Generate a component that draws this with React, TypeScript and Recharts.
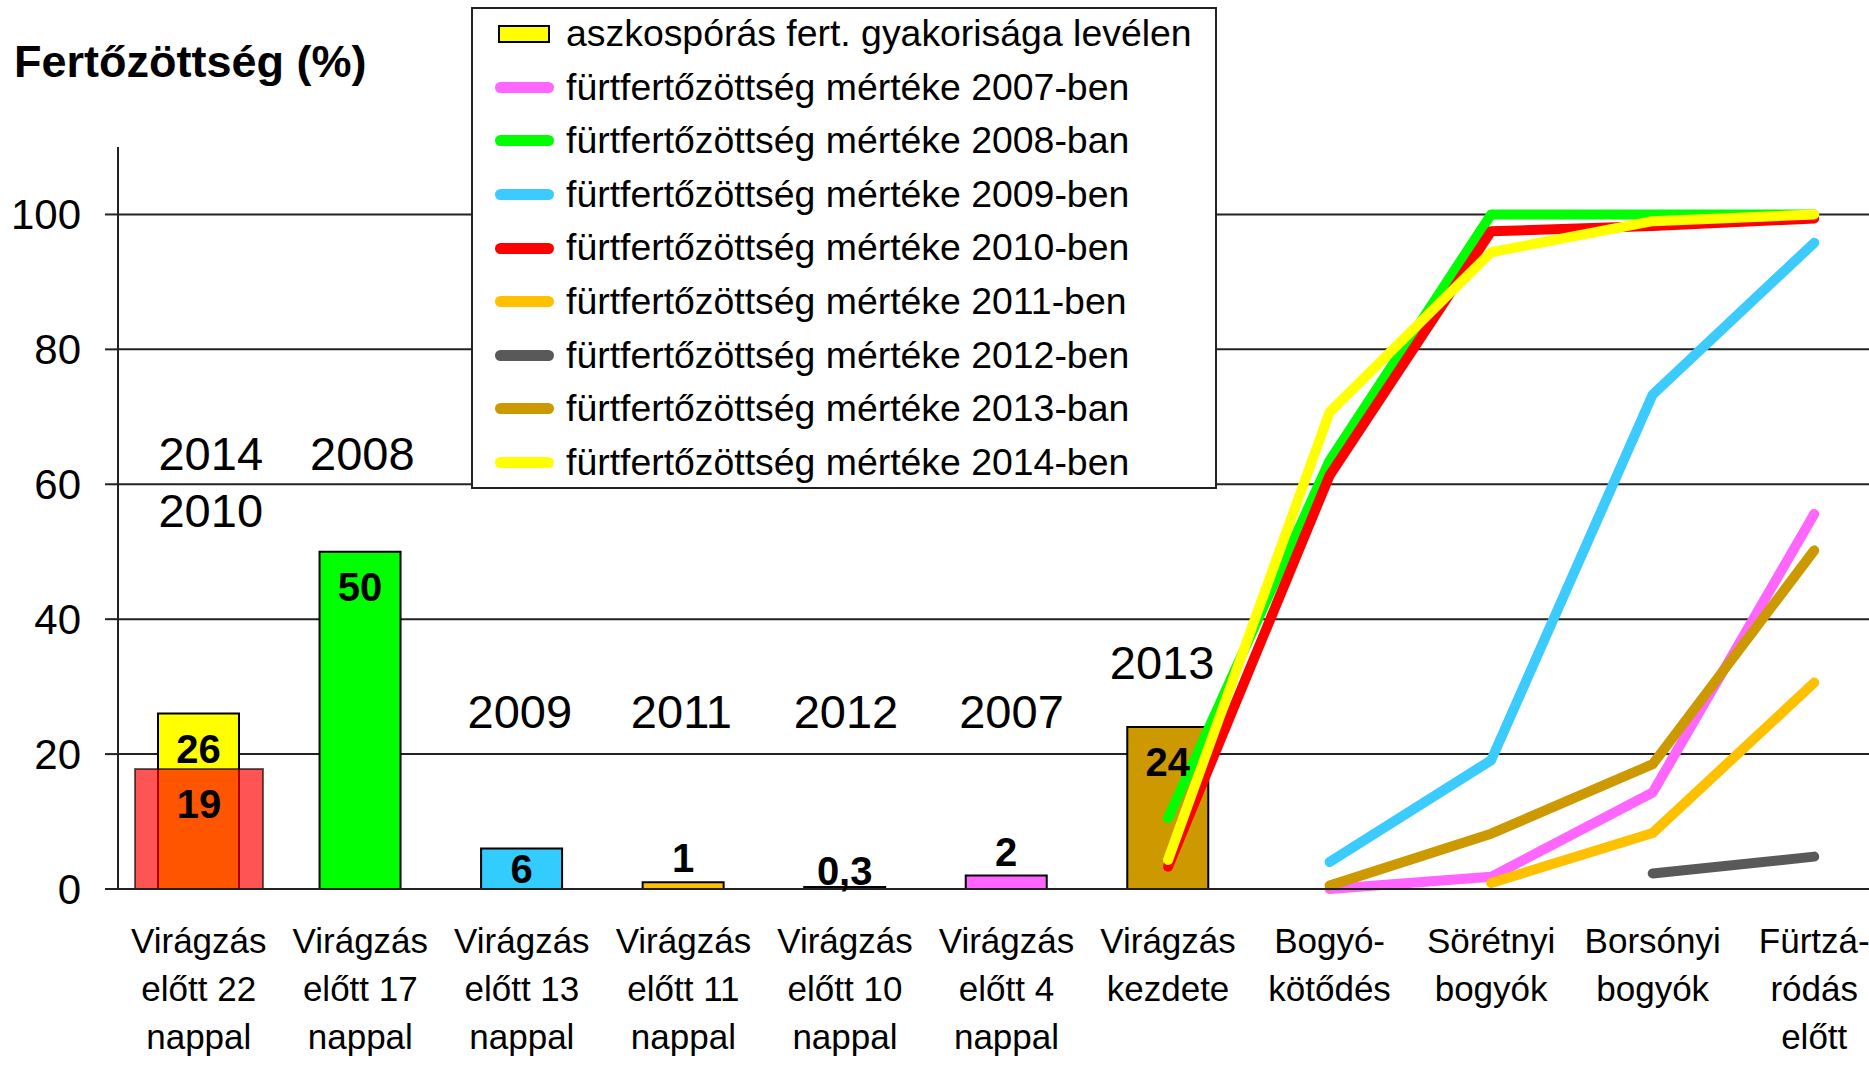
import React from 'react';
import { ComposedChart, Bar, Line, XAxis, YAxis, CartesianGrid, LabelList, ReferenceDot, Cell } from 'recharts';

const FONT = '"Liberation Sans", Arial, Helvetica, sans-serif';

// x categories (one entry per line of the tick label)
const categories = [
  ['Virágzás', 'előtt 22', 'nappal'],
  ['Virágzás', 'előtt 17', 'nappal'],
  ['Virágzás', 'előtt 13', 'nappal'],
  ['Virágzás', 'előtt 11', 'nappal'],
  ['Virágzás', 'előtt 10', 'nappal'],
  ['Virágzás', 'előtt 4', 'nappal'],
  ['Virágzás', 'kezdete'],
  ['Bogyó-', 'kötődés'],
  ['Sörétnyi', 'bogyók'],
  ['Borsónyi', 'bogyók'],
  ['Fürtzá-', 'ródás', 'előtt'],
];

// aszkospórás fertőzés gyakorisága levélen (bars)
const leafValues = [26, 50, 6, 1, 0.3, 2, 24, null, null, null, null];
const leafLabels = ['26', '50', '6', '1', '0,3', '2', '24', null, null, null, null];
const leafColors = ['#FFFF00', '#00FF00', '#33CCFF', '#FFC000', '#595959', '#FF66FF', '#CC9900'];

// 2010 leaf bar drawn wider and see-through over the 2014 one
const overlayValues = [17.8, null, null, null, null, null, null, null, null, null, null];
const overlayLabels = ['19'];

// year captions above the bars
const yearNames = ['2014', '2010', '2008', '2009', '2011', '2012', '2007', '2013'];
const yearCategory = [0, 0, 1, 2, 3, 4, 5, 6];
const yearLevel = [64.6, 56.2, 64.6, 26.4, 26.4, 26.4, 26.4, 33.6];

// fürtfertőzöttség (lines)
const values2007 = [null, null, null, null, null, null, null, 0, 1.8, 14.3, 55.6];
const values2008 = [null, null, null, null, null, null, 10.5, 63.5, 100, 100, 100];
const values2009 = [null, null, null, null, null, null, null, 4.0, 19.1, 73.3, 95.8];
const values2010 = [null, null, null, null, null, null, 3.3, 61.3, 97.5, 98.3, 99.4];
const values2011 = [null, null, null, null, null, null, null, null, 0.9, 8.3, 30.6];
const values2012 = [null, null, null, null, null, null, null, null, null, 2.3, 4.8];
const values2013 = [null, null, null, null, null, null, null, 0.5, 8.2, 18.5, 50.2];
const values2014 = [null, null, null, null, null, null, 4.3, 70.7, 94.4, 99.0, 100];

const yTicks = [0, 20, 40, 60, 80, 100];

const lineSeries = [
  { key: 's2007', name: 'fürtfertőzöttség mértéke 2007-ben', color: '#FF66FF', values: values2007 },
  { key: 's2008', name: 'fürtfertőzöttség mértéke 2008-ban', color: '#00FF00', values: values2008 },
  { key: 's2009', name: 'fürtfertőzöttség mértéke 2009-ben', color: '#3CCBFF', values: values2009 },
  { key: 's2010', name: 'fürtfertőzöttség mértéke 2010-ben', color: '#FF0000', values: values2010 },
  { key: 's2011', name: 'fürtfertőzöttség mértéke 2011-ben', color: '#FFC000', values: values2011 },
  { key: 's2012', name: 'fürtfertőzöttség mértéke 2012-ben', color: '#595959', values: values2012 },
  { key: 's2013', name: 'fürtfertőzöttség mértéke 2013-ban', color: '#CC9900', values: values2013 },
  { key: 's2014', name: 'fürtfertőzöttség mértéke 2014-ben', color: '#FFFF00', values: values2014 },
];

// small horizontal nudges of the year captions (px)
const yearDx = [12, 12, 2, -2, -2, 1, 5, -6];

const data = categories.map((lines, i) => {
  const row: any = { cat: lines.join(' '), leaf: leafValues[i], overlay: overlayValues[i] };
  lineSeries.forEach(s => { row[s.key] = s.values[i]; });
  return row;
});

const CategoryTick = (props: any) => {
  const { x, y, payload } = props;
  const lines = categories.find(c => c.join(' ') === payload.value) || [];
  return (
    <text x={x} y={y} textAnchor="middle" fontSize={35} fill="#000" fontFamily={FONT}>
      {lines.map((l, i) => (
        <tspan key={i} x={x} y={y + 64 + i * 48}>{l}</tspan>
      ))}
    </text>
  );
};

const valueLabel = (labels: (string | null)[], values: (number | null)[]) => (props: any) => {
  const vb = props.viewBox || props;
  const { x, y, width, height } = vb;
  const idx = typeof props.index === 'number' ? props.index : values.indexOf(props.value);
  const text = labels[idx];
  if (!text || x == null) return null;
  const h = Math.abs(height);
  const top = Math.min(y, y + height);
  const cx = x + width / 2;
  let base;
  if (h >= 80) base = top + 35 + 14;
  else if (h >= 25) base = top + h / 2 + 14;
  else if (h >= 5) base = top - 10;
  else base = top - 2;
  return (
    <text x={cx} y={base} textAnchor="middle" fontSize={40} fontWeight="bold" fill="#000" fontFamily={FONT}>
      {text}
    </text>
  );
};

const YearLabel = (props: any) => {
  const { viewBox, value, dx } = props;
  if (!viewBox) return null;
  const cx = viewBox.x + (viewBox.width || 0) / 2 + (dx || 0);
  const cy = viewBox.y + (viewBox.height || 0) / 2;
  return (
    <text x={cx} y={cy + 17} textAnchor="middle" fontSize={47} fill="#000" fontFamily={FONT}>{value}</text>
  );
};

export default function App() {
  return (
    <div style={{ position: 'absolute', left: 0, top: 0, width: 1869, height: 1066, overflow: 'hidden', background: '#fff', fontFamily: FONT }}>
      <div style={{ position: 'absolute', left: 0, top: 0 }}>
        <ComposedChart width={1895} height={1066} data={data} margin={{ top: 147, right: 0, bottom: 0, left: 0 }}>
          <CartesianGrid xAxisId="main" vertical={false} horizontalValues={yTicks.filter(t => t > 0)} stroke="#222" strokeWidth={2} />
          <XAxis xAxisId="main" dataKey="cat" interval={0} height={177} tickSize={0} tickMargin={0} tickLine={false}
            axisLine={{ stroke: '#222', strokeWidth: 2 }} tick={<CategoryTick />} />
          <XAxis xAxisId="over" dataKey="cat" hide />
          <YAxis domain={[0, 110]} ticks={yTicks} width={118} tickSize={13} tickMargin={24}
            axisLine={{ stroke: '#222', strokeWidth: 2 }} tickLine={{ stroke: '#222', strokeWidth: 2 }}
            tick={{ fontSize: 42, fill: '#000', fontFamily: FONT }} />
          <Bar xAxisId="main" dataKey="leaf" barSize={81} stroke="#000" strokeWidth={2} isAnimationActive={false}>
            {leafValues.map((_, i) => (
              <Cell key={i} fill={leafColors[i] || '#fff'} />
            ))}
            <LabelList dataKey="leaf" content={valueLabel(leafLabels, leafValues)} />
          </Bar>
          <Bar xAxisId="over" dataKey="overlay" barSize={128} fill="#FF0000" fillOpacity={0.67} stroke="#000" strokeOpacity={0.6}
            strokeWidth={2} isAnimationActive={false}>
            <LabelList dataKey="overlay" content={valueLabel(overlayLabels, overlayValues)} />
          </Bar>
          {lineSeries.map(s => (
            <Line key={s.key} xAxisId="main" type="linear" dataKey={s.key} stroke={s.color} strokeWidth={10}
              strokeLinecap="round" strokeLinejoin="round" dot={false} activeDot={false} isAnimationActive={false} />
          ))}
          {yearNames.map((name, i) => (
            <ReferenceDot key={name} xAxisId="main" x={data[yearCategory[i]].cat} y={yearLevel[i]} r={0}
              fill="none" stroke="none"
              label={<YearLabel value={name} dx={yearDx[i]} />} />
          ))}
        </ComposedChart>
      </div>
      <div style={{ position: 'absolute', left: 14, top: 39, fontSize: 45, fontWeight: 'bold', lineHeight: 1, color: '#000' }}>
        Fertőzöttség (%)
      </div>
      <div style={{ position: 'absolute', left: 471, top: 7, width: 746, height: 482, border: '2px solid #222', boxSizing: 'border-box', background: '#fff' }}>
        <div style={{ height: 53.6, display: 'flex', alignItems: 'center', marginTop: -2 }}>
          <div style={{ marginLeft: 25, width: 52, height: 18, boxSizing: 'border-box', border: '2px solid #000', background: '#FFFF00' }} />
          <div style={{ marginLeft: 16, fontSize: 37.4, lineHeight: 1, color: '#000', whiteSpace: 'nowrap' }}>aszkospórás fert. gyakorisága levélen</div>
        </div>
        {lineSeries.map(s => (
          <div key={s.key} style={{ height: 53.6, display: 'flex', alignItems: 'center' }}>
            <div style={{ marginLeft: 22, width: 59, height: 11, borderRadius: 6, background: s.color }} />
            <div style={{ marginLeft: 12, fontSize: 37.4, lineHeight: 1, color: '#000', whiteSpace: 'nowrap' }}>{s.name}</div>
          </div>
        ))}
      </div>
    </div>
  );
}
